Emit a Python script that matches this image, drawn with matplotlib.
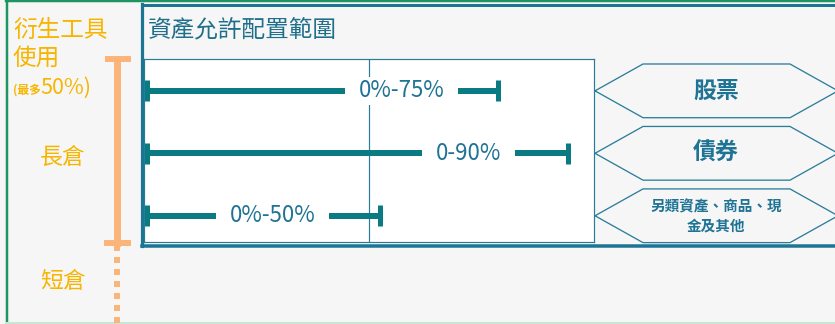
import matplotlib
matplotlib.use("Agg")
import matplotlib.pyplot as plt
from matplotlib.lines import Line2D
from matplotlib.patches import Polygon
import matplotlib.transforms as mtransforms

plt.rcParams['font.family'] = ['Noto Sans CJK TC', 'DejaVu Sans']

# ---------------- data ----------------
categories = ["股票", "債券", "另類資產、商品、現\n金及其他"]
range_low = [0, 0, 0]
range_high = [75, 90, 50]
range_labels = ["0%-75%", "0-90%", "0%-50%"]
title = "資產允許配置範圍"
deriv_title = ["衍生工具", "使用"]
deriv_note_small = "(最多"
deriv_note_big = "50%)"
long_label = "長倉"
short_label = "短倉"

# ---------------- style / layout ----------------
W, H, DPI = 835, 324, 100
BG = "#f6f6f6"
TEAL_FRAME = "#1d7594"
BAR = "#0a7b83"
TXT = "#1f7394"
HEX = "#2a7d99"
GOLD = "#f7b500"
PEACH = "#fbb47a"
label_frac = [0.727, 0.764, 0.541]
px = 72.0 / DPI  # points per pixel

fig = plt.figure(figsize=(W / DPI, H / DPI), dpi=DPI, facecolor=BG)

def fx(x):
    return x / W

def fy(y):
    return 1 - y / H

# outer green frame
fig.add_artist(Line2D([fx(7), fx(7)], [fy(0), fy(323)], color="#1f9463", lw=2.5 * px))
fig.add_artist(Line2D([fx(6), 1], [fy(1), fy(1)], color="#1f9463", lw=2.5 * px))
fig.add_artist(Line2D([fx(6), 1], [fy(322.5), fy(322.5)], color="#c8e6d6", lw=2 * px))

# teal frame
fig.add_artist(Line2D([fx(141.5), fx(141.5)], [fy(4), fy(246)], color=TEAL_FRAME, lw=3.2 * px,
                      solid_capstyle="projecting"))
fig.add_artist(Line2D([fx(141.5), 1], [fy(5), fy(5)], color=TEAL_FRAME, lw=3 * px))
fig.add_artist(Line2D([fx(141.5), 1], [fy(245.5), fy(245.5)], color=TEAL_FRAME, lw=3.5 * px))

fig.text(fx(148), fy(30), title, color="#1f6f8b", fontsize=17, va="center", ha="left")

# main axes (white box)
ax = fig.add_axes([fx(144), fy(242), fx(594) - fx(144), (242 - 59) / H])
ax.set_facecolor("white")
for s in ax.spines.values():
    s.set_color(HEX)
    s.set_linewidth(1.2 * px)
ax.set_xticks([])
ax.set_yticks([])
ax.set_xlim(-0.3, 95.5)
ax.set_ylim(2.42, -0.51)
ax.plot([0.5, 0.5], [0, 1], transform=ax.transAxes, color=HEX, lw=1.2 * px, zorder=1)

rows = list(range(len(categories)))
fig.canvas.draw()
renderer = fig.canvas.get_renderer()
inv = ax.transData.inverted()
for r, lo, hi, lab, fr in zip(rows, range_low, range_high, range_labels, label_frac):
    xc = lo + (hi - lo) * fr
    t = ax.text(xc, r, lab, color=TXT, fontsize=16, ha="center", va="center", zorder=4,
                bbox=dict(boxstyle="square,pad=0.12", fc="white", ec="none"))
    bb = t.get_window_extent(renderer)
    x0 = inv.transform((bb.x0 - 14, 0))[0]
    x1 = inv.transform((bb.x1 + 14, 0))[0]
    ax.plot([lo, x0], [r, r], color=BAR, lw=6 * px, solid_capstyle="butt", zorder=3)
    ax.plot([x1, hi], [r, r], color=BAR, lw=6 * px, solid_capstyle="butt", zorder=3)
    ax.plot([lo + 0.25, lo + 0.25], [r - 0.17, r + 0.17], color=BAR, lw=5 * px,
            solid_capstyle="butt", zorder=3)
    ax.plot([hi, hi], [r - 0.17, r + 0.17], color=BAR, lw=5 * px,
            solid_capstyle="butt", zorder=3)

# hexagons with category names (x in figure fraction, y in row units)
tr = mtransforms.blended_transform_factory(fig.transFigure, ax.transData)
hh = 0.43
for r, cat in zip(rows, categories):
    pts = [(fx(595), r), (fx(643), r - hh), (fx(790), r - hh), (fx(838), r),
           (fx(790), r + hh), (fx(643), r + hh)]
    fig.add_artist(Polygon(pts, closed=True, transform=tr, fc="none", ec=HEX, lw=1.3 * px,
                           clip_on=False))
    if "\n" in cat:
        fig.text(fx(716), r, cat, transform=tr, ha="center", va="center", color=TXT,
                 fontsize=10.5, fontweight="bold", linespacing=1.25)
    else:
        fig.text(fx(716), r, cat, transform=tr, ha="center", va="center", color=TXT,
                 fontsize=16.5, fontweight="bold")

# left derivative annotation
fig.text(fx(13), fy(30), deriv_title[0], color=GOLD, fontsize=17, va="center", ha="left")
fig.text(fx(13), fy(58), deriv_title[1], color=GOLD, fontsize=17, va="center", ha="left")
ts = fig.text(fx(13), fy(90), deriv_note_small, color=GOLD, fontsize=8.5, va="center", ha="left",
              fontweight="bold")
fig.canvas.draw()
bbs = ts.get_window_extent(renderer)
fig.text(bbs.x1 / W, fy(88), deriv_note_big, color=GOLD, fontsize=15.5, va="center", ha="left")
fig.text(fx(63), fy(157), long_label, color=GOLD, fontsize=16.5, va="center", ha="center")
fig.text(fx(63), fy(281), short_label, color=GOLD, fontsize=16.5, va="center", ha="center")

# peach bracket aligned with the white box
trb = mtransforms.blended_transform_factory(fig.transFigure, ax.transAxes)
xb = fx(117)
top_y, bot_y = 1.0, -0.005
fig.add_artist(Line2D([xb, xb], [bot_y, top_y], transform=trb, color=PEACH, lw=7 * px))
fig.add_artist(Line2D([fx(105), fx(131)], [top_y, top_y], transform=trb, color=PEACH, lw=6 * px,
                      solid_capstyle="butt"))
fig.add_artist(Line2D([fx(104), fx(131)], [bot_y, bot_y], transform=trb, color=PEACH, lw=6 * px,
                      solid_capstyle="butt"))
fig.add_artist(Line2D([xb, xb], [fy(245), fy(323)], color=PEACH, lw=6 * px,
                      linestyle=(0, (1, 1)), dash_capstyle="butt"))

fig.savefig("out.png", dpi=DPI, facecolor=BG)
